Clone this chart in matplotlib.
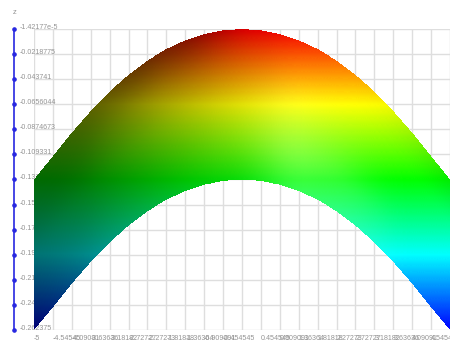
import numpy as np
import matplotlib
matplotlib.use("Agg")
import matplotlib.pyplot as plt
from matplotlib.colors import LinearSegmentedColormap

plt.rcParams['font.family'] = ['Liberation Sans']

# ---- data ----
x_ticks = [-5, -4.54545, -4.09091, -3.63636, -3.18182, -2.72727, -2.27273, -1.81818,
           -1.36364, -0.909091, -0.454545, 0, 0.454545, 0.909091, 1.36364, 1.81818,
           2.27273, 2.72727, 3.18182, 3.63636, 4.09091, 4.54545, 5]
x_labels = ["-5", "-4.54545", "-4.09091", "-3.63636", "-3.18182", "-2.72727", "-2.27273",
            "-1.81818", "-1.36364", "-0.909091", "-0.454545", "", "0.454545", "0.909091",
            "1.36364", "1.81818", "2.27273", "2.72727", "3.18182", "3.63636", "4.09091",
            "4.54545", ""]
z_ticks = [-1.42177e-5, -0.0218775, -0.043741, -0.0656044, -0.0874673, -0.109331, -0.131194,
           -0.153057, -0.17492, -0.196783, -0.218646, -0.24051, -0.262375]
z_labels = ["-1.42177e-5", "-0.0218775", "-0.043741", "-0.0656044", "-0.0874673", "-0.109331",
            "-0.131194", "-0.153057", "-0.17492", "-0.196783", "-0.218646", "-0.24051", "-0.262375"]
# upper and lower silhouette of the surface at each x tick
top_edge = [-0.1316, -0.1112, -0.0905, -0.0715, -0.0547, -0.0400, -0.0276, -0.0176,
            -0.0099, -0.0045, -0.0012, 0.0, -0.0012, -0.0045, -0.0099, -0.0176,
            -0.0276, -0.0400, -0.0547, -0.0715, -0.0905, -0.1112, -0.1316]
bottom_edge = [-0.2624, -0.2424, -0.2217, -0.2027, -0.1859, -0.1712, -0.1588, -0.1488,
               -0.1411, -0.1357, -0.1324, -0.1312, -0.1324, -0.1357, -0.1411, -0.1488,
               -0.1588, -0.1712, -0.1859, -0.2027, -0.2217, -0.2424, -0.2624]
# brightness across the band (rows: top to bottom of band; columns: x positions)
shade_x = [-5, -3.75, -2.5, -1.25, 0, 1.25, 2.5, 3.75, 5]
shade_v = [0, 0.25, 0.5, 0.75, 1]
shade = [[0.42, 0.38, 0.40, 0.52, 0.85, 0.97, 1.00, 0.97, 0.92],
         [0.42, 0.44, 0.55, 0.68, 0.86, 1.00, 1.00, 1.00, 1.00],
         [0.45, 0.50, 0.62, 0.75, 0.88, 1.00, 1.00, 1.00, 1.00],
         [0.45, 0.52, 0.64, 0.76, 0.88, 1.00, 1.00, 1.00, 1.00],
         [0.45, 0.54, 0.66, 0.78, 0.86, 1.00, 1.00, 1.00, 1.00]]
# whitish glare on the right of the centre
glare = [[0.00, 0.00, 0.00, 0.00, 0.00, 0.00, 0.00, 0.00, 0.00],
         [0.00, 0.00, 0.00, 0.00, 0.00, 0.02, 0.02, 0.00, 0.00],
         [0.00, 0.00, 0.00, 0.00, 0.02, 0.14, 0.08, 0.00, 0.00],
         [0.00, 0.00, 0.00, 0.00, 0.04, 0.26, 0.18, 0.00, 0.00],
         [0.00, 0.00, 0.00, 0.00, 0.03, 0.22, 0.16, 0.00, 0.00]]
ramp = ["#0000ff", "#00ffff", "#00ff00", "#ffff00", "#ff0000"]


def soften(a, n=61):
    k = np.ones(n) / n
    pad = n // 2
    for axis in (0, 1):
        p = [(0, 0), (0, 0)]
        p[axis] = (pad, pad)
        a = np.apply_along_axis(lambda m: np.convolve(m, k, mode='valid'), axis, np.pad(a, p, mode='edge'))
    return a


def table_to_mesh(table, xf, vf):
    cols = np.array([np.interp(xf, shade_x, row) for row in np.array(table)])
    m = np.array([np.interp(vf, shade_v, cols[:, j]) for j in range(xf.size)]).T
    return soften(m)


W, H = 450, 342
L, R, T, B = 34, 450, 29, 330
fig = plt.figure(figsize=(W / 100, H / 100), dpi=100)
ax = fig.add_axes([L / W, 1 - B / H, (R - L) / W, (B - T) / H])

ax.set_xlim(-5, 5)
ax.set_ylim(min(z_ticks), max(z_ticks))
ax.set_axisbelow(True)
ax.grid(True, color="#dedede", lw=1.0)
for s in ax.spines.values():
    s.set_visible(False)
ax.set_xticks(x_ticks, x_labels)
ax.set_yticks(z_ticks, z_labels)
ax.tick_params(axis='both', length=0, labelsize=5.1, labelcolor="#949494")
ax.tick_params(axis='y', pad=10.1)
ax.tick_params(axis='x', pad=3.5)
for t in ax.get_yticklabels():
    t.set_ha('left')
    t.set_va('baseline')
for t in ax.get_xticklabels():
    t.set_ha('left')

xf = np.linspace(-5, 5, 840)
vf = np.linspace(0, 1, 420)
tf = np.interp(xf, x_ticks, top_edge)
bf = np.interp(xf, x_ticks, bottom_edge)
X = np.repeat(xf[None, :], vf.size, axis=0)
Z = tf[None, :] + (bf - tf)[None, :] * vf[:, None]
S = table_to_mesh(shade, xf, vf)
G = table_to_mesh(glare, xf, vf)
cmap = LinearSegmentedColormap.from_list("ramp", ramp)
C = cmap((Z - min(bottom_edge)) / (max(top_edge) - min(bottom_edge)))
C[..., :3] = C[..., :3] * S[..., None]
C[..., :3] = C[..., :3] + (1 - C[..., :3]) * G[..., None]
C = np.clip(C, 0, 1)
ax.pcolormesh(X, Z, C[:-1, :-1], shading='flat', antialiased=False, zorder=2, linewidth=0)

# blue z axis with dots
tr = ax.get_yaxis_transform()
ax_x = (14 - L) / (R - L)
ax.plot([ax_x, ax_x], [min(z_ticks), max(z_ticks)], color="#2828e0", lw=1.2, transform=tr, clip_on=False, zorder=3)
ax.plot([ax_x] * len(z_ticks), z_ticks, 'o', ms=2.3, color="#2828e0", transform=tr, clip_on=False, zorder=3)
ax.text(ax_x + 0.002, 1.055, "z", transform=ax.transAxes, fontsize=5.5, color="#949494", ha='center', va='center')

fig.savefig("out.png", dpi=100)
